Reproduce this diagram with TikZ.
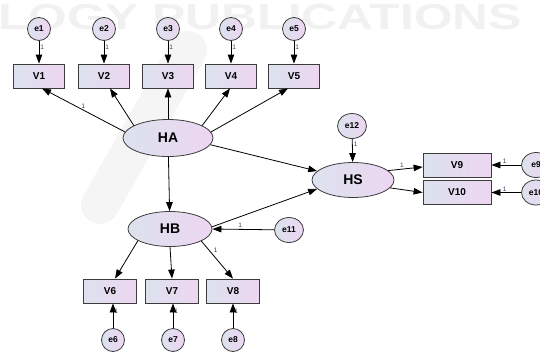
\documentclass[tikz,border=0pt]{standalone}
\usepackage{fontspec}
\setmainfont{Liberation Sans}
\usetikzlibrary{shapes.geometric,arrows.meta}
\definecolor{lc}{HTML}{DCE2EE}
\definecolor{rc}{HTML}{EDD6F1}
\definecolor{bd}{HTML}{3C3C3C}
\definecolor{onec}{HTML}{2E3F66}
\definecolor{wm}{HTML}{F1F1F1}
\definecolor{wm2}{HTML}{F5F5F5}
\begin{document}
\begin{tikzpicture}[x=1pt,y=-1pt,
  obs/.style={draw=bd, line width=0.8pt, left color=lc, right color=rc,
    minimum width=51pt, minimum height=24pt, inner sep=0pt,
    font=\bfseries\fontsize{10}{10}\selectfont},
  lat/.style={ellipse, draw=bd, line width=0.8pt, left color=lc, right color=rc,
    inner sep=0pt, font=\bfseries\fontsize{14}{14}\selectfont},
  err/.style={circle, draw=bd, line width=0.8pt, left color=lc, right color=rc,
    minimum size=23pt, inner sep=0pt, font=\bfseries\fontsize{8.5}{8.5}\selectfont},
  errw/.style={ellipse, draw=bd, line width=0.8pt, left color=lc, right color=rc,
    minimum width=29pt, minimum height=25pt, inner sep=0pt,
    font=\bfseries\fontsize{8.5}{8.5}\selectfont},
  arr/.style={-{Triangle[length=9pt,width=6.5pt]}, line width=0.8pt, draw=black},
  one/.style={font=\fontsize{6.5}{6.5}\selectfont, text=onec, inner sep=1pt}
]
\useasboundingbox (0,0) rectangle (540,351);
\clip (0,0) rectangle (540,351);
% watermark
\draw[wm2, line width=38pt, line cap=round] (188,50) -- (100,205);
\node[anchor=west, text=wm, xscale=1.38, font=\bfseries\fontsize{36}{36}\selectfont, inner sep=0pt] (wmark) at (-2,17) {LOGY PUBLICATIONS};

% top row
\foreach \i/\x in {1/39,2/104,3/168,4/231,5/294}{
  \node[err] (e\i) at (\x,29) {e\i};
  \node[obs] (V\i) at (\x,76) {V\i};
  \draw[arr] (e\i) -- node[one, pos=0.3, right] {1} (V\i);
}
% latent
\node[lat, minimum width=90pt, minimum height=37pt] (HA) at (168,138) {HA};
\node[lat, minimum width=84pt, minimum height=35pt] (HB) at (170,229) {HB};
\node[lat, minimum width=82pt, minimum height=35pt] (HS) at (353,180) {HS};

% HA indicators
\draw[arr] (HA.172) -- node[one, pos=0.5, above] {1} ([xshift=3pt]V1.south);
\draw[arr] (HA.160) -- ([xshift=6pt]V2.south);
\draw[arr] (HA.north) -- (V3.south);
\draw[arr] (HA.20) -- ([xshift=-1pt]V4.south);
\draw[arr] (HA.8) -- ([xshift=-6pt]V5.south);

% structural paths
\draw[arr] (HA) -- (HB);
\draw[arr] (HA.351) -- (HS.166);
\draw[arr] (HB.3) -- (HS.194);

% errors of latent
\node[errw] (e11) at (289,230) {e11};
\draw[arr] (e11) -- node[one, pos=0.55, above] {1} (HB.east);
\node[errw] (e12) at (352,126) {e12};
\draw[arr] (e12) -- node[one, pos=0.25, right] {1} (HS);

% HS indicators
\node[obs, minimum width=68pt] (V9) at (457,165) {V9};
\node[obs, minimum width=68pt] (V10) at (457,192.5) {V10};
\draw[arr] (HS.15) -- node[one, pos=0.4, above] {1} ([yshift=-2pt]V9.west);
\draw[arr] (HS.348) -- (V10.west);
\node[errw] (e9) at (536,165) {e9};
\node[errw] (e10) at (536,192.5) {e10};
\draw[arr] (e9) -- node[one, pos=0.55, above] {1} (V9);
\draw[arr] (e10) -- node[one, pos=0.55, above] {1} (V10);

% HB indicators
\node[obs, minimum width=53pt] (V6) at (110,291) {V6};
\node[obs, minimum width=53pt] (V7) at (172,291) {V7};
\node[obs, minimum width=53pt] (V8) at (233,291) {V8};
\draw[arr] (HB.200) -- ([xshift=5pt]V6.north);
\draw[arr] (HB.south) -- (V7.north);
\draw[arr] (HB.339) -- node[one, pos=0.35, above right] {1} (V8.north);
\foreach \i/\x in {6/113,7/173,8/233}{
  \node[err] (e\i) at (\x,340) {e\i};
  \draw[arr] (e\i) -- node[one, pos=0.7, right] {1} (e\i |- V\i.south);
}
\end{tikzpicture}
\end{document}
